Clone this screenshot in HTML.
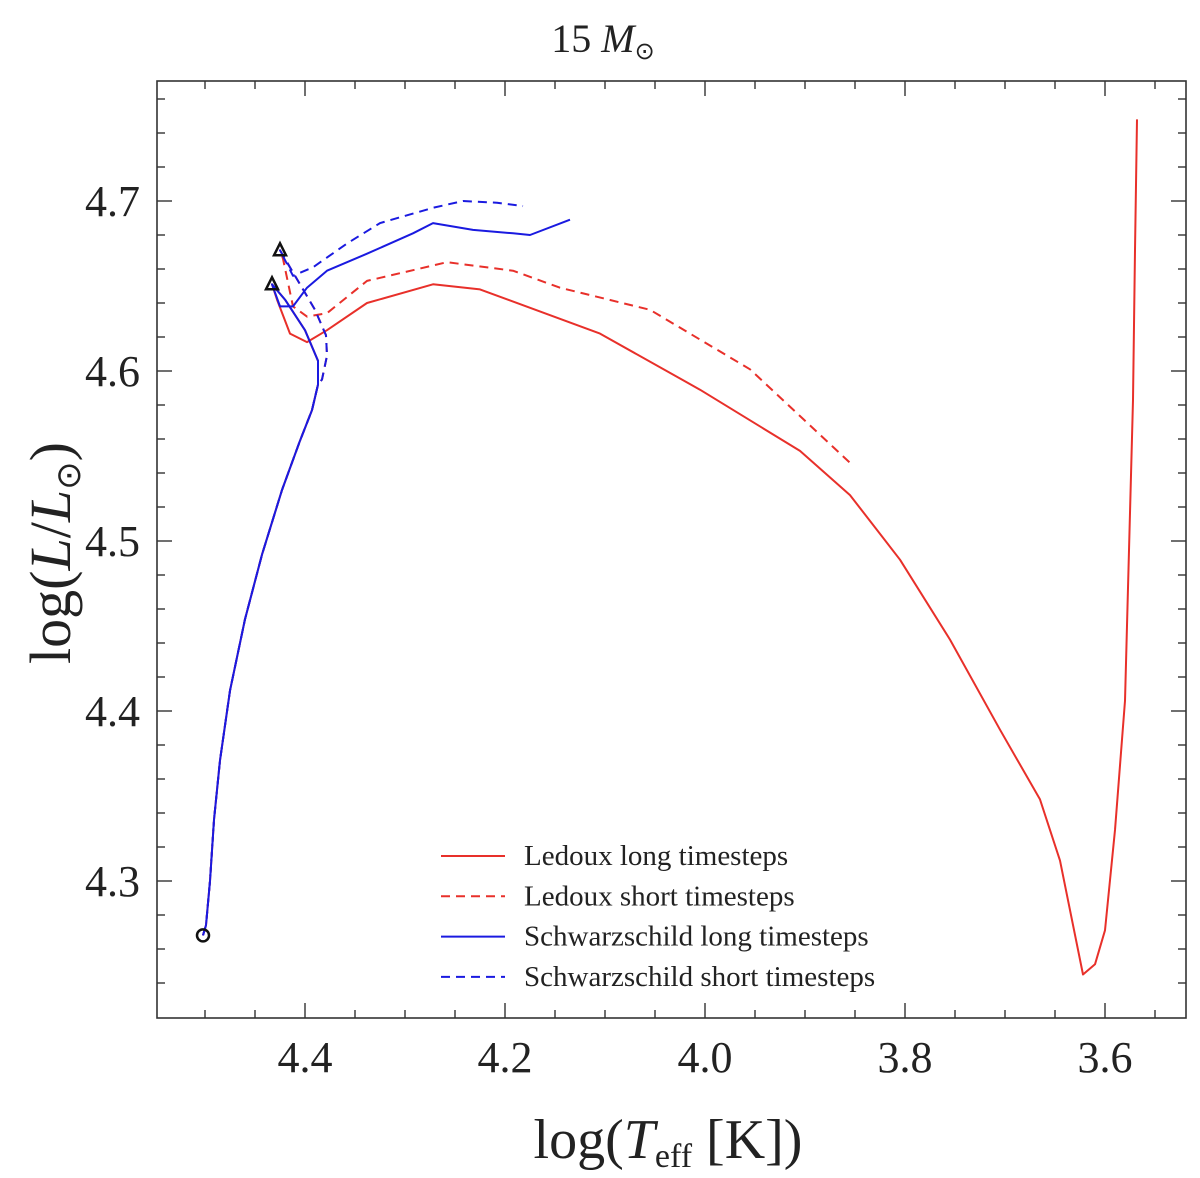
<!DOCTYPE html>
<html><head><meta charset="utf-8"><style>
html,body{margin:0;padding:0;background:#fff;}
svg{display:block;font-family:"Liberation Serif",serif;}
</style></head><body>
<svg id="chart" width="1200" height="1178" viewBox="0 0 1200 1178" xmlns="http://www.w3.org/2000/svg"></svg>
<script>
// ---- data ----
const xTicks = [4.4, 4.2, 4.0, 3.8, 3.6];
const xTickLabels = ["4.4", "4.2", "4.0", "3.8", "3.6"];
const yTicks = [4.3, 4.4, 4.5, 4.6, 4.7];
const yTickLabels = ["4.3", "4.4", "4.5", "4.6", "4.7"];
const msT = [4.502,4.499,4.495,4.491,4.485,4.475,4.460,4.443,4.423,4.405,4.393,4.387];
const msL = [4.268,4.274,4.300,4.336,4.371,4.412,4.454,4.492,4.530,4.559,4.577,4.592];
const solidHookT = [4.387,4.400,4.420,4.433];
const solidHookL = [4.606,4.624,4.642,4.651];
const dashHookT = [4.383,4.378,4.379,4.390,4.410,4.425];
const dashHookL = [4.595,4.609,4.621,4.636,4.656,4.671];
const ledLongT = [4.428,4.415,4.398,4.378,4.338,4.272,4.225,4.105,4.005,3.905,3.855,3.805,3.755,3.705,3.665,3.645,3.622,3.610,3.600,3.590,3.580,3.572,3.570,3.568];
const ledLongL = [4.642,4.622,4.617,4.624,4.640,4.651,4.648,4.622,4.589,4.553,4.527,4.489,4.442,4.389,4.348,4.312,4.245,4.251,4.271,4.330,4.406,4.583,4.671,4.748];
const ledShortT = [4.422,4.412,4.398,4.378,4.338,4.258,4.192,4.145,4.055,3.955,3.855];
const ledShortL = [4.666,4.638,4.632,4.634,4.653,4.664,4.659,4.649,4.636,4.601,4.546];
const schLongT = [4.425,4.412,4.398,4.378,4.338,4.292,4.272,4.232,4.192,4.175,4.135];
const schLongL = [4.638,4.638,4.649,4.659,4.669,4.681,4.687,4.683,4.681,4.680,4.689];
const schShortT = [4.412,4.392,4.358,4.325,4.272,4.242,4.208,4.182];
const schShortL = [4.656,4.661,4.675,4.687,4.696,4.700,4.699,4.697];
const legendLabels = ["Ledoux long timesteps","Ledoux short timesteps","Schwarzschild long timesteps","Schwarzschild short timesteps"];

// ---- axes ----
const X0=157, X1=1186, Y0=81, Y1=1018;
const xs = v => 305 + (4.4 - v) * 1000;
const ys = v => 201 + (4.7 - v) * 1700;
const svg = document.getElementById('chart');
const NS = "http://www.w3.org/2000/svg";
function mk(tag, attrs, parent){ const e=document.createElementNS(NS,tag); for(const k in attrs) e.setAttribute(k,attrs[k]); (parent||svg).appendChild(e); return e; }
function pts(T,L){ return T.map((t,i)=>xs(t).toFixed(1)+","+ys(L[i]).toFixed(1)).join(" "); }

let e;
e = mk('rect',{x:X0,y:Y0,width:X1-X0,height:Y1-Y0,fill:'none',stroke:'#333','stroke-width':1.6});



const tg = mk('g',{stroke:'#333','stroke-width':1.4});


for(let v=4.55; v>=3.52; v-=0.05){
  const x=xs(v); if(x<X0+2||x>X1-2) continue;
  const major = Math.abs(Math.round(v*5)-v*5)<1e-6;
  const len = major?15:8;
  mk('line',{x1:x,y1:Y1,x2:x,y2:Y1-len},tg);
  mk('line',{x1:x,y1:Y0,x2:x,y2:Y0+len},tg);
}
for(let v=4.22; v<=4.78; v+=0.02){
  const y=ys(v); if(y<Y0+2||y>Y1-2) continue;
  const major = Math.abs(Math.round(v*10)-v*10)<1e-6;
  const len = major?15:8;
  mk('line',{x1:X0,y1:y,x2:X0+len,y2:y},tg);
  mk('line',{x1:X1,y1:y,x2:X1-len,y2:y},tg);
}
xTicks.forEach((v,i)=>{
  e = mk('text',{x:xs(v),y:1072,'text-anchor':'middle','font-size':44,fill:'#222'});
  e.textContent = xTickLabels[i];
  
  
});
yTicks.forEach((v,i)=>{
  e = mk('text',{x:140,y:ys(v)+15,'text-anchor':'end','font-size':44,fill:'#222'});
  e.textContent = yTickLabels[i];
  
  
});

e = mk('text',{x:603,y:52,'text-anchor':'middle','font-size':40,fill:'#222'});
e.innerHTML = '15 <tspan font-style="italic">M</tspan><tspan font-size="24" dy="7">⊙</tspan>';


e = mk('text',{x:668,y:1158,'text-anchor':'middle','font-size':56,fill:'#222'});
e.innerHTML = 'log(<tspan font-style="italic">T</tspan><tspan font-size="34" dy="9">eff</tspan><tspan dy="-9"> [K])</tspan>';


e = mk('text',{x:0,y:0,'text-anchor':'middle','font-size':58,fill:'#222',transform:'translate(70,553) rotate(-90)'});
e.innerHTML = 'log(<tspan font-style="italic">L</tspan>/<tspan font-style="italic">L</tspan><tspan font-size="34" dy="10">⊙</tspan><tspan dy="-10">)</tspan>';



const RED='#e8302a', BLUE='#1a1ae0';
function series(name, T, L, color, dashed){
  const p = mk('polyline',{points:pts(T,L),fill:'none',stroke:color,'stroke-width':2,'stroke-linejoin':'round','stroke-dasharray':dashed?'9,6':'none'});
  
  
}
const solidFullT = msT.concat(solidHookT), solidFullL = msL.concat(solidHookL);
const dashFullT = msT.concat(dashHookT), dashFullL = msL.concat(dashHookL);
series('ledoux-long-line', solidFullT.concat(ledLongT), solidFullL.concat(ledLongL), RED, false);
series('ledoux-short-line', dashFullT.concat(ledShortT), dashFullL.concat(ledShortL), RED, true);
series('schwarzschild-long-line', solidFullT.concat(schLongT), solidFullL.concat(schLongL), BLUE, false);
series('schwarzschild-short-line', dashFullT.concat(schShortT), dashFullL.concat(schShortL), BLUE, true);

e = mk('circle',{cx:xs(msT[0]),cy:ys(msL[0]),r:6,fill:'none',stroke:'#111','stroke-width':2.5});


function tri(t,l){
  const x=xs(t), y=ys(l);
  const m = mk('polygon',{points:`${x},${y-7} ${x-6},${y+5} ${x+6},${y+5}`,fill:'none',stroke:'#111','stroke-width':2.5});
  
  
}
tri(solidHookT[solidHookT.length-1], solidHookL[solidHookL.length-1]);
tri(dashHookT[dashHookT.length-1], dashHookL[dashHookL.length-1]);

const lg = mk('g',{});


const colors=[RED,RED,BLUE,BLUE], dashes=[false,true,false,true];
legendLabels.forEach((lab,i)=>{
  const y = 856 + i*40.3;
  const ln = mk('line',{x1:441,y1:y,x2:505,y2:y,stroke:colors[i],'stroke-width':2,'stroke-dasharray':dashes[i]?'9,6':'none'},lg);
  
  
  const t = mk('text',{x:524,y:y+9,'font-size':29,fill:'#222'},lg);
  t.textContent = lab;
  
  
});
</script>
</body></html>
